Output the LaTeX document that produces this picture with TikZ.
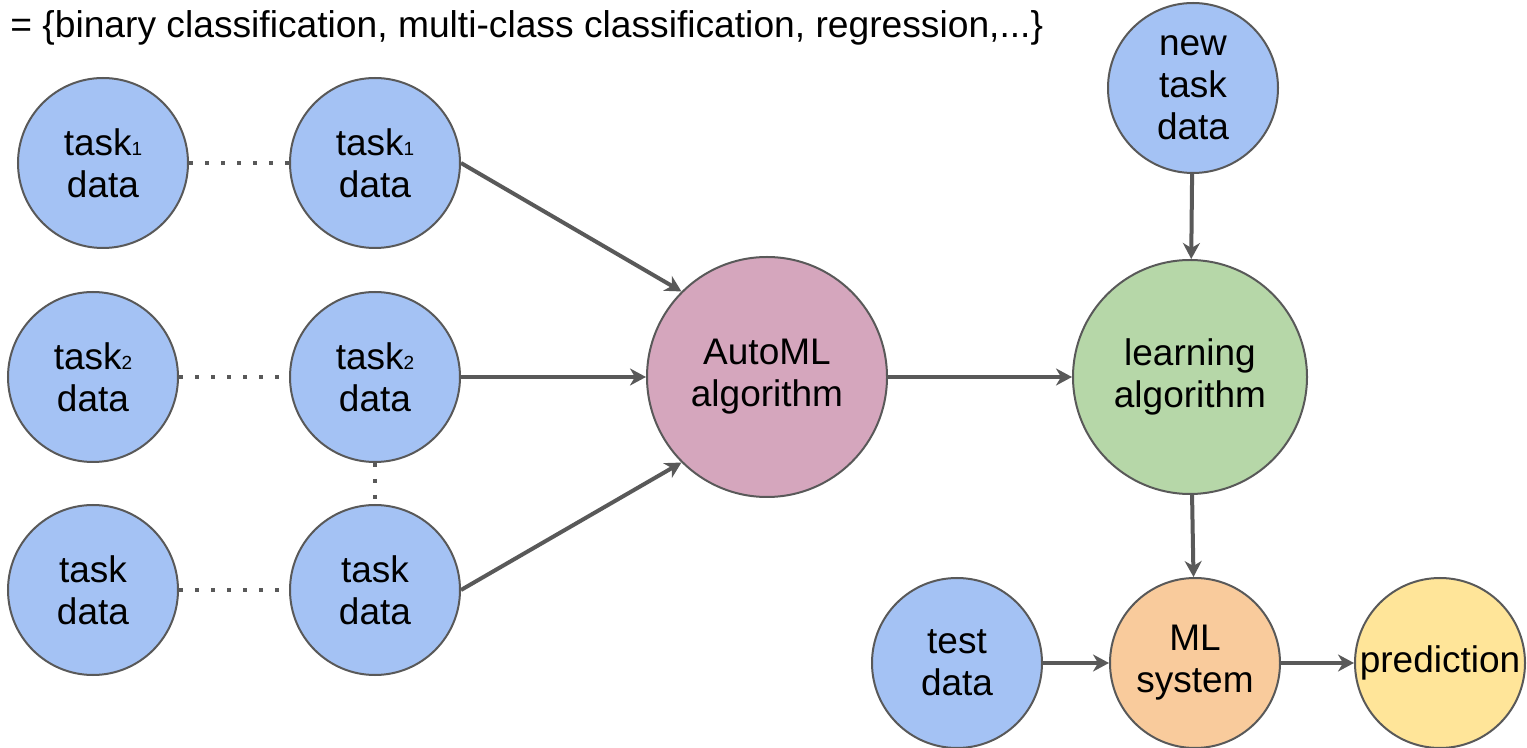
\documentclass[tikz,border=0pt]{standalone}
\usepackage{fontspec}
\setmainfont{Liberation Sans}
\usetikzlibrary{arrows.meta}
\definecolor{edge}{HTML}{595959}
\definecolor{taskblue}{HTML}{A4C2F4}
\definecolor{automl}{HTML}{D5A6BD}
\definecolor{learngreen}{HTML}{B6D7A8}
\definecolor{mlorange}{HTML}{F9CB9C}
\definecolor{predyellow}{HTML}{FFE599}
% small index digit set on the baseline
\newcommand\idx[1]{{\fontsize{9.5}{10}\selectfont #1}}
\tikzset{
  x=0.5pt, y=-0.5pt,
  ball/.style={circle, draw=edge, line width=1pt, inner sep=0pt,
    minimum size=85pt, align=center,
    font=\fontsize{18.5}{21}\selectfont},
  bigball/.style={ball, minimum size=#1},
  flow/.style={draw=edge, line width=2pt,
    -{Stealth[length=8pt, width=8.5pt, inset=2.5pt]}},
  dots/.style={draw=edge, line width=2pt, dash pattern=on 2pt off 6pt},
}
\begin{document}
\begin{tikzpicture}
\useasboundingbox (0,0) rectangle (1527,748);

\node[anchor=base west, inner sep=0pt, font=\fontsize{18.6}{21}\selectfont]
  (types) at (10,38) {= \{binary classification, multi-class classification, regression,...\}};

% meta-training tasks
\node[ball, fill=taskblue] (l1) at (103,163) {task\idx{1}\\data};
\node[ball, fill=taskblue] (m1) at (375,163) {task\idx{1}\\data};
\node[ball, fill=taskblue] (l2) at (93,377) {task\idx{2}\\data};
\node[ball, fill=taskblue] (m2) at (375,377) {task\idx{2}\\data};
\node[ball, fill=taskblue] (l3) at (93,590) {task\\data};
\node[ball, fill=taskblue] (m3) at (375,590) {task\\data};

% meta-learner and its products
\node[bigball=120pt, fill=automl] (auto) at (767,377) {AutoML\\algorithm};
\node[bigball=117pt, fill=learngreen] (learn) at (1190,377) {learning\\algorithm};
\node[ball, fill=taskblue] (new) at (1193,88) {new\\task\\data};
\node[ball, fill=mlorange] (ml) at (1195,663) {ML\\system};
\node[ball, fill=taskblue] (test) at (957,663) {test\\data};
\node[ball, fill=predyellow] (pred) at (1440,663) {prediction};

% dotted links between task copies
\draw[dots] (l1) -- (m1);
\draw[dots] (l2) -- (m2);
\draw[dots] (l3) -- (m3);
\draw[dots] (m2) -- (m3);

% data flow
\draw[flow] (m1.east) -- (auto.135);
\draw[flow] (m2) -- (auto);
\draw[flow] (m3.east) -- (auto.225);
\draw[flow] (auto) -- (learn);
\draw[flow] (new) -- (learn);
\draw[flow] (learn) -- (ml);
\draw[flow] (test) -- (ml);
\draw[flow] (ml) -- (pred);
\end{tikzpicture}
\end{document}
